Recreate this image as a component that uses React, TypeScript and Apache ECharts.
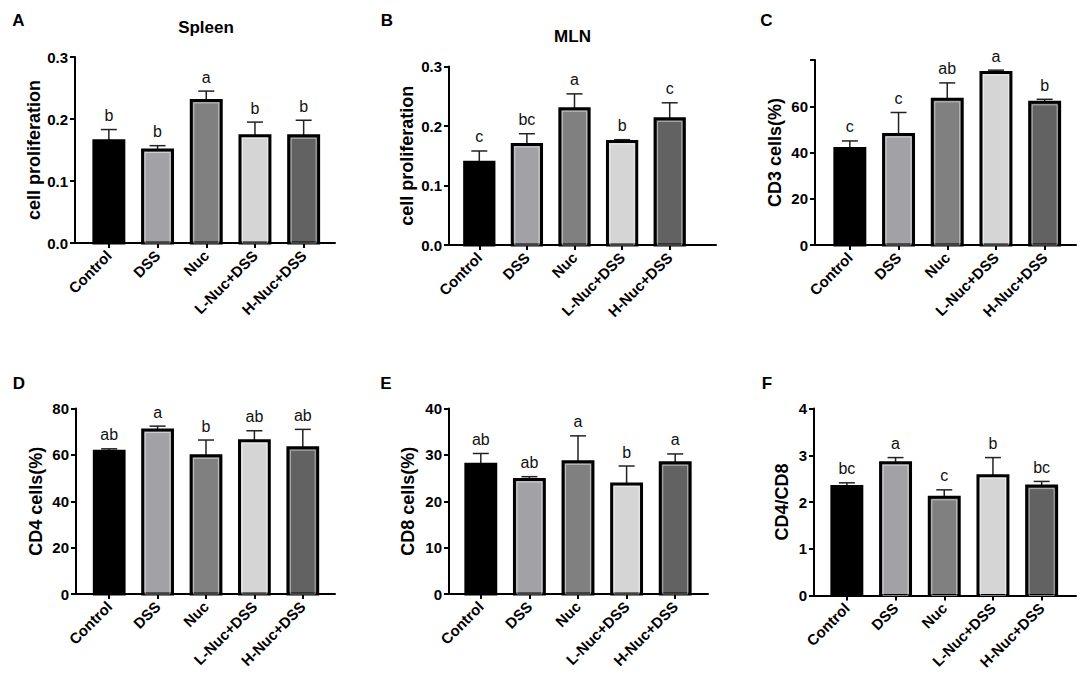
import React, { useEffect, useRef } from "react";
import * as echarts from "echarts";

const CATEGORIES = ["Control", "DSS", "Nuc", "L-Nuc+DSS", "H-Nuc+DSS"];

// Panel A – Spleen
const SPLEEN_MEAN = [0.165, 0.15, 0.23, 0.173, 0.173];
const SPLEEN_SD = [0.018, 0.007, 0.015, 0.022, 0.025];
const SPLEEN_LETTERS = ["b", "b", "a", "b", "b"];
const SPLEEN_TICKS = [0, 0.1, 0.2, 0.3];

// Panel B – MLN
const MLN_MEAN = [0.139, 0.169, 0.229, 0.174, 0.212];
const MLN_SD = [0.019, 0.018, 0.025, 0.003, 0.027];
const MLN_LETTERS = ["c", "bc", "a", "b", "c"];
const MLN_TICKS = [0, 0.1, 0.2, 0.3];

// Panel C – CD3
const CD3_MEAN = [41.7, 47.8, 63.0, 74.6, 61.7];
const CD3_SD = [3.3, 9.5, 7.1, 1.0, 1.3];
const CD3_LETTERS = ["c", "c", "ab", "a", "b"];
const CD3_TICKS = [0, 20, 40, 60, 80];
const CD3_TICK_LABELS = ["0", "20", "40", "60", ""];

// Panel D – CD4
const CD4_MEAN = [61.6, 70.7, 59.6, 66.1, 63.1];
const CD4_SD = [1.0, 1.7, 6.8, 4.3, 7.9];
const CD4_LETTERS = ["ab", "a", "b", "ab", "ab"];
const CD4_TICKS = [0, 20, 40, 60, 80];

// Panel E – CD8
const CD8_MEAN = [28.0, 24.7, 28.5, 23.7, 28.3];
const CD8_SD = [2.3, 0.6, 5.6, 3.9, 1.9];
const CD8_LETTERS = ["ab", "ab", "a", "b", "a"];
const CD8_TICKS = [0, 10, 20, 30, 40];

// Panel F – CD4/CD8
const RATIO_MEAN = [2.33, 2.84, 2.1, 2.56, 2.34];
const RATIO_SD = [0.08, 0.11, 0.16, 0.39, 0.1];
const RATIO_LETTERS = ["bc", "a", "c", "b", "bc"];
const RATIO_TICKS = [0, 1, 2, 3, 4];

const BAR_COLORS = ["#000000", "#a2a1a6", "#808080", "#d5d5d5", "#626262"];
const FONT = "'Liberation Sans', Arial, Helvetica, sans-serif";

type Panel = {
  label: string;
  title?: string;
  yName: string;
  mean: number[];
  sd: number[];
  letters: string[];
  ticks: number[];
  tickLabels?: string[];
  decimals: number;
  // layout (pixels)
  axisX: number;
  axisEnd: number;
  top: number;
  bottom: number;
  barsLeft: number;
  barsWidth: number;
  nameGap: number;
  labelPos: [number, number];
  titlePos?: [number, number];
};

const PANELS: Panel[] = [
  {
    label: "A", title: "Spleen", yName: "cell proliferation",
    mean: SPLEEN_MEAN, sd: SPLEEN_SD, letters: SPLEEN_LETTERS, ticks: SPLEEN_TICKS, decimals: 1,
    axisX: 75, axisEnd: 335, top: 57, bottom: 243, barsLeft: 84.5, barsWidth: 243.5, nameGap: 29,
    labelPos: [18.5, 20], titlePos: [206, 27.5],
  },
  {
    label: "B", title: "MLN", yName: "cell proliferation",
    mean: MLN_MEAN, sd: MLN_SD, letters: MLN_LETTERS, ticks: MLN_TICKS, decimals: 1,
    axisX: 449, axisEnd: 716, top: 66.5, bottom: 245, barsLeft: 455.5, barsWidth: 238, nameGap: 33,
    labelPos: [387, 20], titlePos: [572.5, 36],
  },
  {
    label: "C", yName: "CD3 cells(%)",
    mean: CD3_MEAN, sd: CD3_SD, letters: CD3_LETTERS, ticks: CD3_TICKS, tickLabels: CD3_TICK_LABELS, decimals: 0,
    axisX: 815, axisEnd: 1076, top: 60, bottom: 245, barsLeft: 825.5, barsWidth: 243.5, nameGap: 31,
    labelPos: [766.5, 20],
  },
  {
    label: "D", yName: "CD4 cells(%)",
    mean: CD4_MEAN, sd: CD4_SD, letters: CD4_LETTERS, ticks: CD4_TICKS, decimals: 0,
    axisX: 76, axisEnd: 335, top: 408.5, bottom: 594, barsLeft: 85, barsWidth: 242, nameGap: 31,
    labelPos: [19, 383],
  },
  {
    label: "E", yName: "CD8 cells(%)",
    mean: CD8_MEAN, sd: CD8_SD, letters: CD8_LETTERS, ticks: CD8_TICKS, decimals: 0,
    axisX: 449, axisEnd: 708, top: 408.5, bottom: 594, barsLeft: 456.5, barsWidth: 243, nameGap: 32,
    labelPos: [386, 383],
  },
  {
    label: "F", yName: "CD4/CD8",
    mean: RATIO_MEAN, sd: RATIO_SD, letters: RATIO_LETTERS, ticks: RATIO_TICKS, decimals: 0,
    axisX: 814, axisEnd: 1076, top: 408.5, bottom: 595.5, barsLeft: 822.5, barsWidth: 243.5, nameGap: 23,
    labelPos: [767, 383],
  },
];

function buildOption() {
  const grid: any[] = [];
  const xAxis: any[] = [];
  const yAxis: any[] = [];
  const series: any[] = [];
  const graphic: any[] = [];

  PANELS.forEach((p, i) => {
    const min = p.ticks[0];
    const max = p.ticks[p.ticks.length - 1];
    const interval = p.ticks[1] - p.ticks[0];
    const height = p.bottom - p.top;

    // frame grid: y axis + full-length x axis line
    grid.push({ left: p.axisX, top: p.top, width: p.axisEnd - p.axisX, height, containLabel: false });
    // bars grid
    grid.push({ left: p.barsLeft, top: p.top, width: p.barsWidth, height, containLabel: false });

    xAxis.push({
      type: "value", gridIndex: 2 * i, min: 0, max: 1,
      axisLine: { show: true, lineStyle: { color: "#000", width: 2 } },
      axisTick: { show: false }, axisLabel: { show: false }, splitLine: { show: false },
    });
    xAxis.push({
      type: "category", gridIndex: 2 * i + 1, data: CATEGORIES, boundaryGap: true,
      axisLine: { show: false },
      axisTick: { show: true, alignWithLabel: true, length: 5, lineStyle: { color: "#000", width: 2 } },
      axisLabel: {
        interval: 0, rotate: 45, margin: 10, color: "#000",
        fontSize: 15, fontWeight: "bold", fontFamily: FONT,
      },
      splitLine: { show: false },
    });

    yAxis.push({
      type: "value", gridIndex: 2 * i, min, max, interval,
      name: p.yName, nameLocation: "middle", nameGap: p.nameGap,
      nameTextStyle: { fontSize: 18, fontWeight: "bold", fontFamily: FONT, color: "#000" },
      axisLine: { show: true, lineStyle: { color: "#000", width: 2 } },
      axisTick: { show: true, length: 5, lineStyle: { color: "#000", width: 2 } },
      axisLabel: {
        margin: 7, color: "#000", fontSize: 15, fontWeight: "bold", fontFamily: FONT,
        formatter: (v: number) => {
          const k = p.ticks.findIndex((t) => Math.abs(t - v) < 1e-9);
          if (p.tickLabels && k >= 0) return p.tickLabels[k];
          return v.toFixed(p.decimals);
        },
      },
      splitLine: { show: false },
    });
    yAxis.push({ type: "value", gridIndex: 2 * i + 1, min, max, interval, show: false, splitLine: { show: false } });

    const letters = p.letters;
    series.push({
      type: "custom",
      xAxisIndex: 2 * i + 1,
      yAxisIndex: 2 * i + 1,
      clip: false,
      encode: { x: 0, y: 1 },
      data: CATEGORIES.map((_, k) => [k, p.mean[k], p.sd[k]]),
      renderItem: (params: any, api: any) => {
        const idx = api.value(0);
        const m = api.value(1);
        const s = api.value(2);
        const base = api.coord([idx, 0]);
        const topPt = api.coord([idx, m]);
        const errPt = api.coord([idx, m + s]);
        const bw = api.size([1, 0])[0] * 0.615;
        const cx = base[0];
        const x0 = cx - bw / 2;
        const h = base[1] - topPt[1];
        const color = BAR_COLORS[params.dataIndex];
        const children: any[] = [
          { type: "line", shape: { x1: cx, y1: topPt[1], x2: cx, y2: errPt[1] }, style: { stroke: "#222", lineWidth: 1.5 } },
          { type: "line", shape: { x1: cx - 8, y1: errPt[1], x2: cx + 8, y2: errPt[1] }, style: { stroke: "#222", lineWidth: 1.5 } },
          { type: "rect", shape: { x: x0, y: topPt[1], width: bw, height: h }, style: { fill: color, stroke: "#000", lineWidth: 3 } },
        ];
        if (params.dataIndex > 0) {
          children.push({
            type: "rect",
            shape: { x: x0 + 2.5, y: topPt[1] + 2.5, width: bw - 5, height: h - 2.5 },
            style: { fill: "none", stroke: "rgba(255,255,255,0.5)", lineWidth: 1 },
          });
        }
        children.push({
          type: "text",
          x: cx, y: errPt[1] - 14,
          style: { text: letters[params.dataIndex], align: "center", verticalAlign: "middle", fontSize: 16, fontFamily: FONT, fill: "#111" },
        });
        return { type: "group", children };
      },
    });

    graphic.push({
      type: "text", x: p.labelPos[0], y: p.labelPos[1],
      style: { text: p.label, align: "center", verticalAlign: "middle", fontSize: 17, fontWeight: "bold", fontFamily: FONT, fill: "#000" },
    });
    if (p.title && p.titlePos) {
      graphic.push({
        type: "text", x: p.titlePos[0], y: p.titlePos[1],
        style: { text: p.title, align: "center", verticalAlign: "middle", fontSize: 17, fontWeight: "bold", fontFamily: FONT, fill: "#000" },
      });
    }
  });

  return { animation: false, backgroundColor: "#fff", grid, xAxis, yAxis, series, graphic };
}

export default function App() {
  const ref = useRef<HTMLDivElement>(null);
  useEffect(() => {
    if (!ref.current) return;
    const chart = echarts.init(ref.current, undefined, { renderer: "svg" });
    chart.setOption(buildOption() as any);
    return () => chart.dispose();
  }, []);
  return (
    <div
      ref={ref}
      style={{ position: "absolute", left: 0, top: 0, width: 1084, height: 677, background: "#fff" }}
    />
  );
}
